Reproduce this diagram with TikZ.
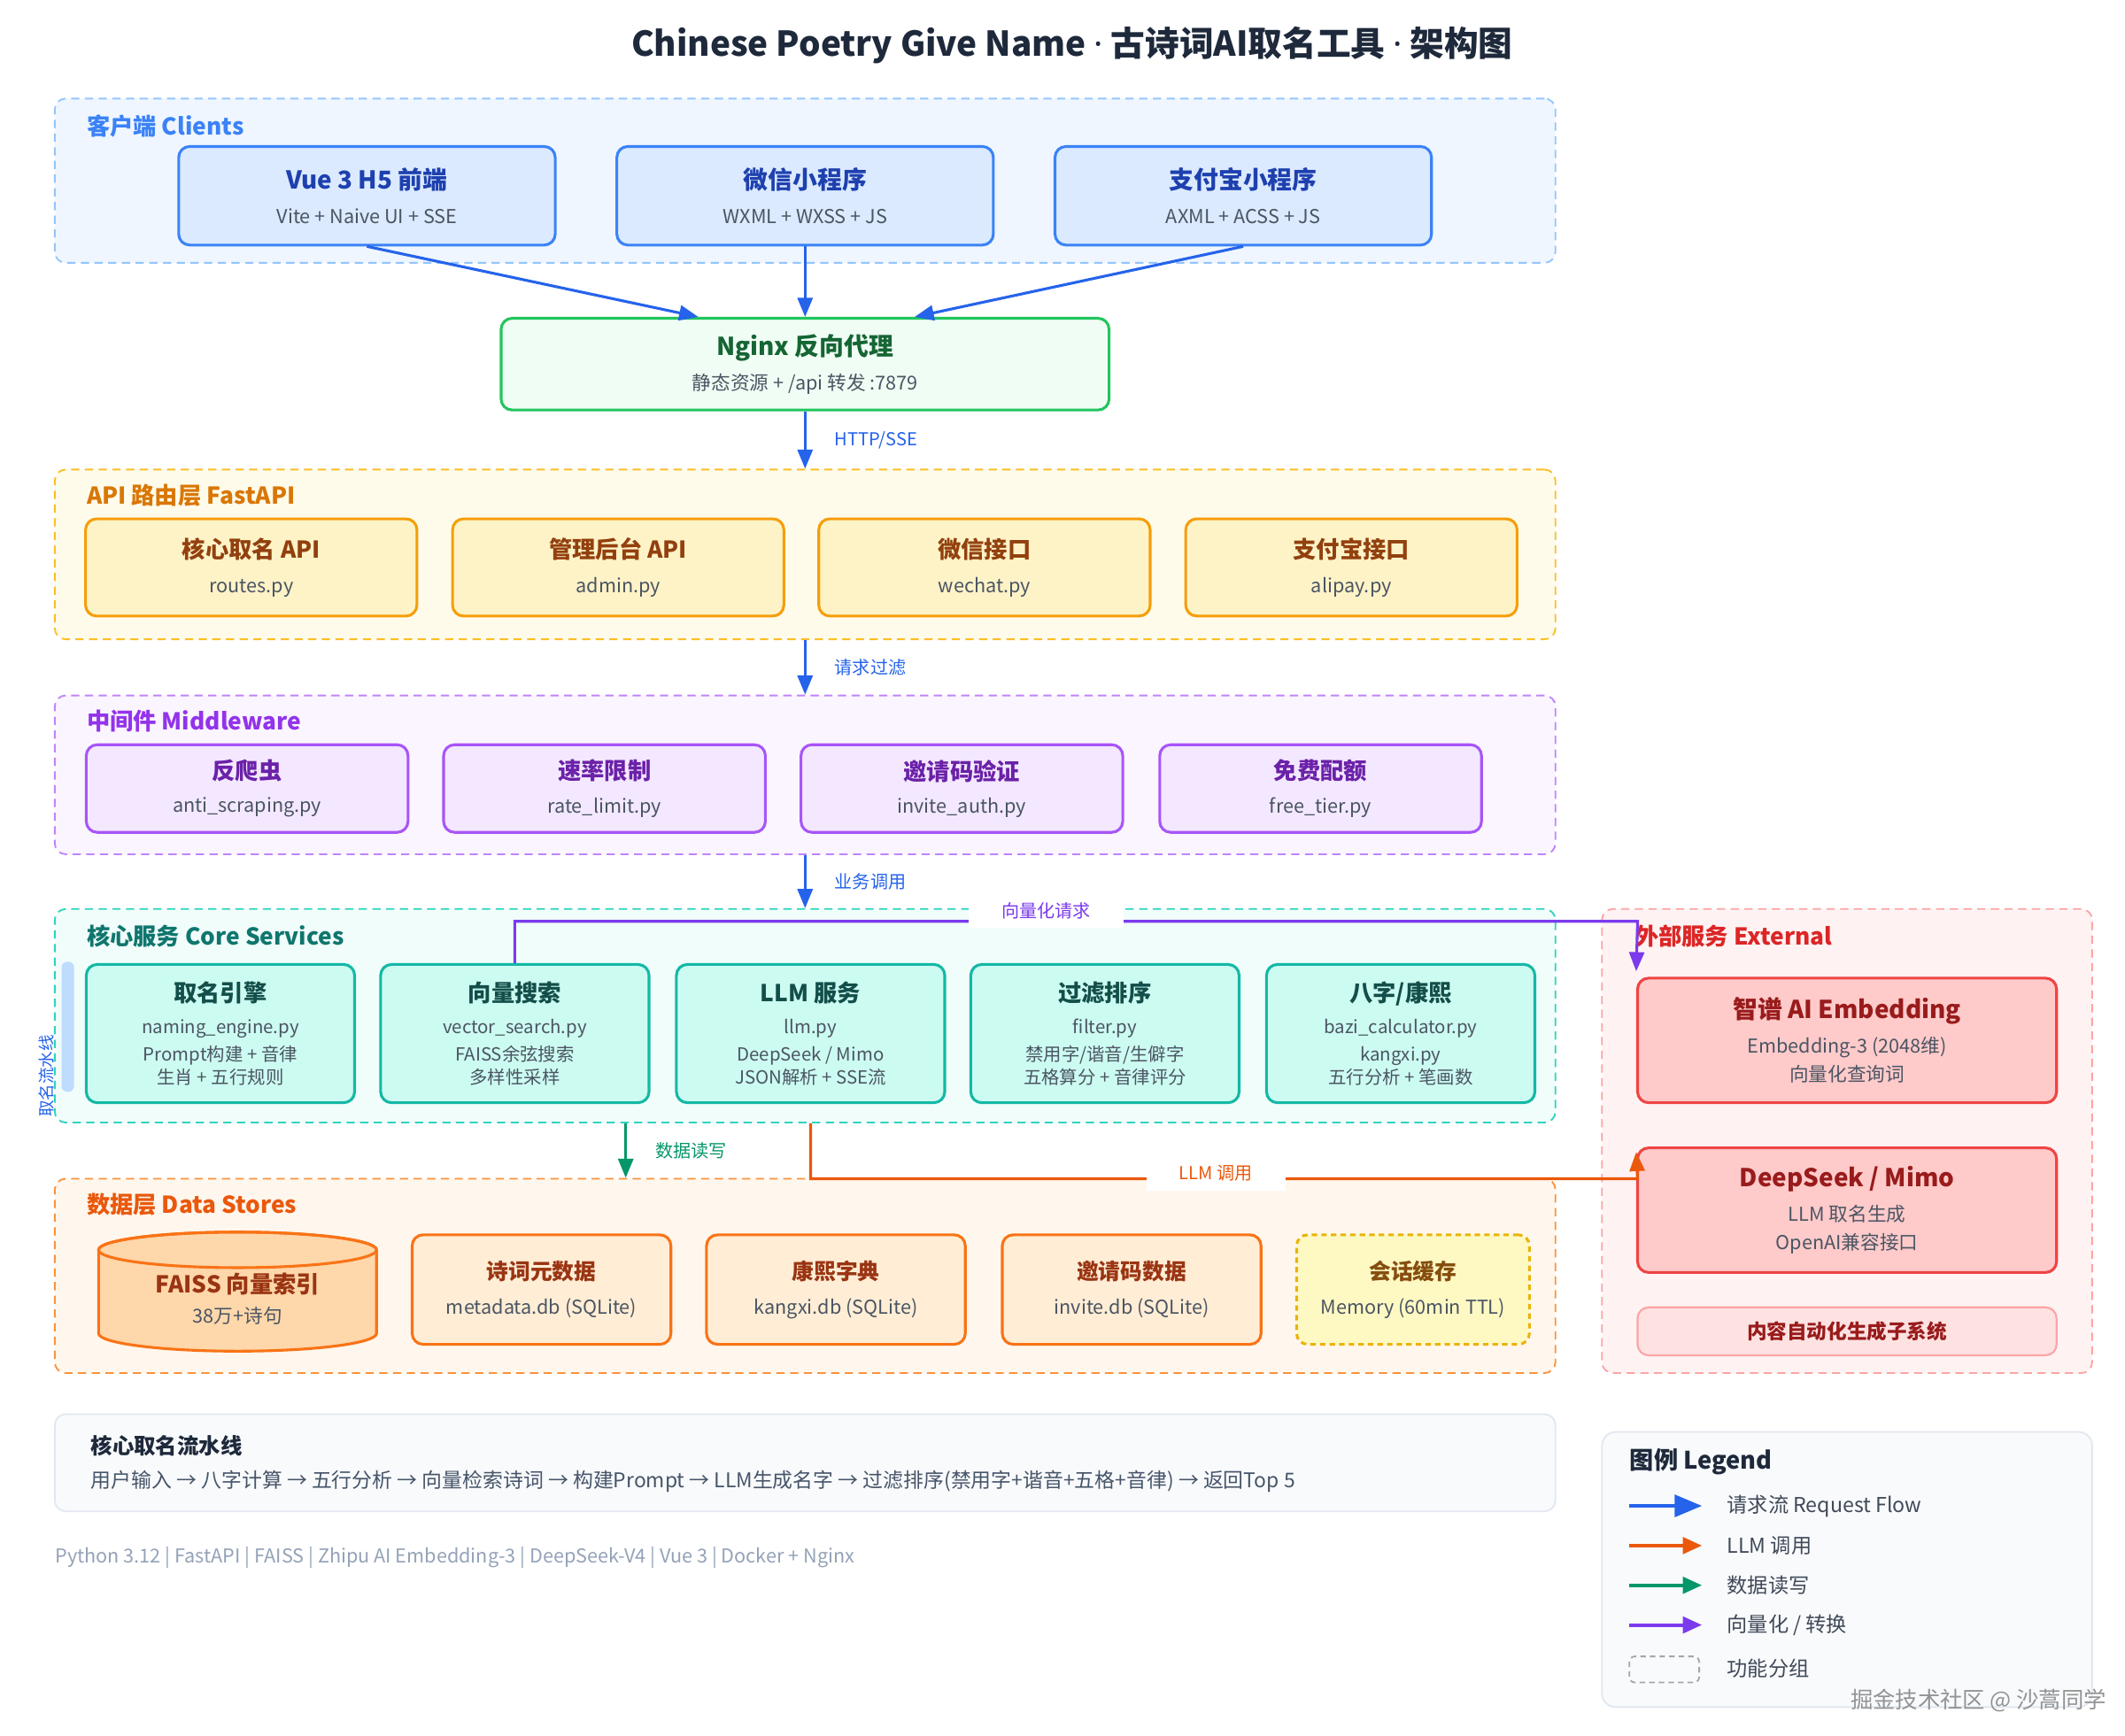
\documentclass[tikz,border=0pt]{standalone}
\usepackage{fontspec}
\setmainfont{Noto Sans CJK SC}
\newfontfamily\latinfont{Noto Sans}
\usetikzlibrary{arrows.meta}
\definecolor{flowblue}{HTML}{2563EB}
\definecolor{subgray}{HTML}{4B5563}
\definecolor{cgfill}{HTML}{EFF6FF}\definecolor{cgline}{HTML}{93C5FD}\definecolor{cglab}{HTML}{3B82F6}
\definecolor{cbfill}{HTML}{DBEAFE}\definecolor{cbline}{HTML}{3B82F6}\definecolor{cbtext}{HTML}{1E40AF}
\definecolor{ngfill}{HTML}{F0FDF4}\definecolor{ngline}{HTML}{22C55E}\definecolor{ngtext}{HTML}{166534}
\definecolor{agfill}{HTML}{FFFBEB}\definecolor{agline}{HTML}{FBBF24}\definecolor{aglab}{HTML}{D97706}
\definecolor{abfill}{HTML}{FEF3C7}\definecolor{abline}{HTML}{F59E0B}\definecolor{abtext}{HTML}{92400E}
\definecolor{mgfill}{HTML}{FAF5FF}\definecolor{mgline}{HTML}{C084FC}\definecolor{mglab}{HTML}{9333EA}
\definecolor{mbfill}{HTML}{F3E8FF}\definecolor{mbline}{HTML}{A855F7}\definecolor{mbtext}{HTML}{6B21A8}
\definecolor{sgfill}{HTML}{F0FDFA}\definecolor{sgline}{HTML}{2DD4BF}\definecolor{sglab}{HTML}{0F766E}
\definecolor{sbfill}{HTML}{CCFBF1}\definecolor{sbline}{HTML}{14B8A6}\definecolor{sbtext}{HTML}{134E4A}
\definecolor{dgfill}{HTML}{FFF7ED}\definecolor{dgline}{HTML}{FB923C}\definecolor{dglab}{HTML}{EA580C}
\definecolor{dbfill}{HTML}{FFEDD5}\definecolor{dbline}{HTML}{F97316}\definecolor{dbtext}{HTML}{9A3412}
\definecolor{cylfill}{HTML}{FED7AA}
\definecolor{ssfill}{HTML}{FEF9C3}\definecolor{ssline}{HTML}{EAB308}\definecolor{sstext}{HTML}{854D0E}
\definecolor{egfill}{HTML}{FEF2F2}\definecolor{egline}{HTML}{FCA5A5}\definecolor{eglab}{HTML}{DC2626}
\definecolor{ebfill}{HTML}{FECACA}\definecolor{ebline}{HTML}{EF4444}\definecolor{ebtext}{HTML}{991B1B}
\definecolor{esfill}{HTML}{FEE2E2}
\definecolor{pfill}{HTML}{F8FAFC}\definecolor{pline}{HTML}{E2E8F0}\definecolor{ptitle}{HTML}{1E293B}\definecolor{ptext}{HTML}{475569}
\definecolor{foot}{HTML}{94A3B8}
\definecolor{llmorange}{HTML}{EA580C}\definecolor{datagreen}{HTML}{059669}\definecolor{vecpurple}{HTML}{7C3AED}
\definecolor{barblue}{HTML}{BFDBFE}
\newcommand\bt[3][8.5]{{\color{#2}\bfseries\fontsize{#1}{#1}\selectfont #3}}
\newcommand\mdot{{\latinfont\bfseries ·}}
\tikzset{
  grp/.style={draw, rounded corners=4pt, line width=0.6pt, dash pattern=on 3pt off 2pt, inner sep=0pt},
  box/.style={draw, rounded corners=4pt, line width=1pt, align=center, inner sep=0pt,
    font=\fontsize{7}{9}\selectfont, text=subgray},
  glabel/.style={anchor=west, inner xsep=0pt, font=\bfseries\fontsize{8.5}{10}\selectfont},
  alab/.style={font=\fontsize{6.5}{8}\selectfont},
  ltext/.style={anchor=west, inner xsep=0pt, text=ptitle!85, font=\fontsize{7.5}{9}\selectfont},
  flow/.style={draw=flowblue, line width=1pt, -{Triangle[length=7pt,width=5.5pt]}},
}
\begin{document}
\begin{tikzpicture}[x=0.5pt,y=-0.5pt]
\useasboundingbox[fill=white] (0,0) rectangle (1552,1268);
\node[font=\bfseries\fontsize{12.5}{14}\selectfont, text=ptitle] (title) at (783,33)
  {Chinese Poetry Give Name \mdot{} 古诗词AI取名工具 \mdot{} 架构图};
% groups
\node[grp, fill=cgfill, draw=cgline, minimum width=548pt, minimum height=60pt] (clients) at (588,132) {};
\node[grp, fill=agfill, draw=agline, minimum width=548pt, minimum height=62pt] (api) at (588,405) {};
\node[grp, fill=mgfill, draw=mgline, minimum width=548pt, minimum height=58pt] (mid) at (588,566) {};
\node[grp, fill=sgfill, draw=sgline, minimum width=548pt, minimum height=78pt] (core) at (588,742) {};
\node[grp, fill=dgfill, draw=dgline, minimum width=548pt, minimum height=71pt] (data) at (588,932) {};
\node[grp, fill=egfill, draw=egline, minimum width=179pt, minimum height=169.5pt] (ext) at (1349,833.5) {};
\path
(63,92) node[glabel, text=cglab] (lclients) {客户端 Clients}
(63,362) node[glabel, text=aglab] (lapi) {API 路由层 FastAPI}
(63,527) node[glabel, text=mglab] (lmid) {中间件 Middleware}
(63,684) node[glabel, text=sglab] (lcore) {核心服务 Core Services}
(63,880) node[glabel, text=dglab] (ldata) {数据层 Data Stores}
(1194,684) node[glabel, text=eglab] (lext) {外部服务 External}
;
% clients + nginx
\foreach \n/\x/\t/\s in {vue/268/Vue 3 H5 前端/Vite + Naive UI + SSE,wx/588/微信小程序/WXML + WXSS + JS,ali/908/支付宝小程序/AXML + ACSS + JS}
  \node[box, fill=cbfill, draw=cbline, minimum width=137.5pt, minimum height=36pt] (\n) at (\x,143) {\bt[9]{cbtext}{\t}\\[3.5pt]\s};
\node[box, fill=ngfill, draw=ngline, minimum width=222pt, minimum height=33.5pt] (nginx) at (588,266)
  {\bt[9]{ngtext}{Nginx 反向代理}\\[3.5pt]静态资源 + /api 转发 :7879};
% api
\foreach \n/\x/\t/\s in {rt/183.5/核心取名 API/routes.py,adm/451.5/管理后台 API/admin.py,wci/719/微信接口/wechat.py,api2/987/支付宝接口/alipay.py}
  \node[box, fill=abfill, draw=abline, minimum width=121pt, minimum height=35.5pt] (\n) at (\x,414.5) {\bt{abtext}{\t}\\[3.5pt]\s};
% middleware
\foreach \n/\x/\t/\s in {scr/180.5/反爬虫/anti\_scraping.py,rate/441.5/速率限制/rate\_limit.py,inv/702.5/邀请码验证/invite\_auth.py,free/964.5/免费配额/free\_tier.py}
  \node[box, fill=mbfill, draw=mbline, minimum width=117.5pt, minimum height=32pt] (\n) at (\x,576) {\bt{mbtext}{\t}\\[3pt]\s};
% core services
\foreach \n/\x/\t/\a/\b/\c in {eng/161/取名引擎/naming\_engine.py/Prompt构建 + 音律/生肖 + 五行规则,
  vs/376/向量搜索/vector\_search.py/FAISS余弦搜索/多样性采样,
  llm/592/LLM 服务/llm.py/{DeepSeek / Mimo}/JSON解析 + SSE流,
  flt/807/过滤排序/filter.py/{禁用字/谐音/生僻字}/五格算分 + 音律评分,
  bazi/1023/{八字/康熙}/bazi\_calculator.py/kangxi.py/五行分析 + 笔画数}
  \node[box, fill=sbfill, draw=sbline, minimum width=98pt, minimum height=50.5pt, font=\fontsize{6.6}{8.5}\selectfont] (\n) at (\x,755)
    {\bt{sbtext}{\t}\\[3pt]\a\\[1.5pt]\b\\[0pt]\c};
\node[fill=barblue, rounded corners=2pt, minimum width=4.5pt, minimum height=47.5pt, inner sep=0pt] (pbar) at (49.5,750) {};
\node[rotate=90, text=flowblue, font=\fontsize{6}{7}\selectfont] (plab) at (34,786) {取名流水线};
% data stores
\draw[dbline, fill=cylfill, line width=1pt] (72,913) -- (72,974) arc[start angle=180, end angle=360, x radius=50.75pt, y radius=6.5pt]
  -- (275,913) arc[start angle=0, end angle=180, x radius=50.75pt, y radius=6.5pt];
\draw[dbline, line width=1pt] (173.5,913) ellipse[x radius=50.75pt, y radius=6.5pt];
\node[align=center, font=\fontsize{7}{9}\selectfont, text=subgray] (faiss) at (173.5,949) {\bt{dbtext}{FAISS 向量索引}\\[2pt]38万+诗句};
\foreach \n/\x/\t/\s in {meta/395.5/诗词元数据/metadata.db (SQLite),kx/610.5/康熙字典/kangxi.db (SQLite),invdb/826.5/邀请码数据/invite.db (SQLite)}
  \node[box, fill=dbfill, draw=dbline, minimum width=94.5pt, minimum height=40pt] (\n) at (\x,942) {\bt[8]{dbtext}{\t}\\[3.5pt]\s};
\node[box, fill=ssfill, draw=ssline, dash pattern=on 2pt off 1.5pt, minimum width=85pt, minimum height=40pt] (sess) at (1032,942)
  {\bt[8]{sstext}{会话缓存}\\[3.5pt]Memory (60min TTL)};
% external
\node[box, fill=ebfill, draw=ebline, minimum width=153pt, minimum height=45.5pt] (zhipu) at (1349,760)
  {\bt[9]{ebtext}{智谱 AI Embedding}\\[3.5pt]Embedding-3 (2048维)\\[1.5pt]向量化查询词};
\node[box, fill=ebfill, draw=ebline, minimum width=153pt, minimum height=45.5pt] (ds) at (1349,884)
  {\bt[9]{ebtext}{DeepSeek / Mimo}\\[3.5pt]LLM 取名生成\\[1.5pt]OpenAI兼容接口};
\node[box, fill=esfill, draw=egline, line width=0.7pt, minimum width=153pt, minimum height=17.5pt] (auto) at (1349,972.5)
  {\bt[7.3]{ebtext}{内容自动化生成子系统}};
% connectors
\draw[flow] (vue.south) -- ([xshift=-39pt]nginx.north);
\draw[flow] (wx.south) -- (nginx.north);
\draw[flow] (ali.south) -- ([xshift=40pt]nginx.north);
\draw[flow] (nginx.south) -- (api.north) node[alab, midway, anchor=west, xshift=7pt, text=flowblue] {HTTP/SSE};
\draw[flow] (api.south) -- (mid.north) node[alab, midway, anchor=west, xshift=7pt, text=flowblue] {请求过滤};
\draw[flow] (mid.south) -- (core.north) node[alab, midway, anchor=west, xshift=7pt, text=flowblue] {业务调用};
\coordinate (vbend) at (1196,673);
\coordinate (lbend) at (1196,861);
\coordinate (dcol) at (457,0);
\draw[vecpurple, line width=1pt, -{Triangle[length=7pt,width=5.5pt]}] (vs.north) |- (vbend) -- ([yshift=2pt]zhipu.north west);
\draw[llmorange, line width=1pt, -{Triangle[length=7pt,width=5.5pt]}] (llm.south |- core.south) |- (lbend) -- ([yshift=-2pt]ds.north west);
\draw[datagreen, line width=1pt, -{Triangle[length=7pt,width=5.5pt]}] (core.south -| dcol) -- (data.north -| dcol)
  node[alab, midway, anchor=west, xshift=7pt, text=datagreen] {数据读写};
\node[alab, fill=white, text=vecpurple, inner xsep=12pt] (vql) at (764,665) {向量化请求};
\node[alab, fill=white, text=llmorange, inner xsep=12pt] (llml) at (888,857) {LLM 调用};
% pipeline + footer
\node[draw=pline, fill=pfill, rounded corners=4pt, line width=0.6pt, minimum width=548pt, minimum height=35.5pt] (pipe) at (588,1068.5) {};
\node[anchor=west, inner xsep=0pt, text=ptitle, font=\bfseries\fontsize{7.9}{9}\selectfont] (ptl) at (66,1056) {核心取名流水线};
\node[anchor=west, inner xsep=0pt, text=ptext, font=\fontsize{7.4}{9}\selectfont] (ptx) at (66,1082)
  {用户输入 → 八字计算 → 五行分析 → 向量检索诗词 → 构建Prompt → LLM生成名字 → 过滤排序(禁用字+谐音+五格+音律) → 返回Top 5};
\node[anchor=west, inner xsep=0pt, text=foot, font=\fontsize{7}{9}\selectfont] (ftr) at (40,1138)
  {Python 3.12 | FastAPI | FAISS | Zhipu AI Embedding-3 | DeepSeek-V4 | Vue 3 | Docker + Nginx};
% legend
\node[draw=pline, fill=pfill, rounded corners=5pt, line width=0.6pt, minimum width=179pt, minimum height=100.5pt] (leg) at (1349,1146.5) {};
\node[anchor=west, inner xsep=0pt, text=ptitle, font=\bfseries\fontsize{8.8}{10}\selectfont] (legt) at (1190,1068) {图例 Legend};
\foreach \y/\c/\l/\w/\t in {1100/flowblue/10/8/请求流 Request Flow,1129/llmorange/7/6/LLM 调用,1158/datagreen/7/6/数据读写,1187/vecpurple/7/6/{向量化 / 转换}}{
  \coordinate (la\y) at (1190,\y);
  \coordinate (lb\y) at (1243,\y);
  \draw[\c, line width=1.3pt, -{Triangle[length=\l pt,width=\w pt]}] (la\y) -- (lb\y);
  \node[ltext] (lt\y) at (1261,\y) {\t};
}
\node[draw=gray!70, dash pattern=on 2pt off 1.5pt, rounded corners=2pt, line width=0.6pt, minimum width=25.5pt, minimum height=9.5pt, inner sep=0pt] (lgrp) at (1215.5,1219.5) {};
\node[ltext] (lgt) at (1261,1219) {功能分组};
\node[text=gray!85, font=\fontsize{8.2}{10}\selectfont] (wm) at (1445,1242) {掘金技术社区 @ 沙蒿同学};
\end{tikzpicture}
\end{document}
